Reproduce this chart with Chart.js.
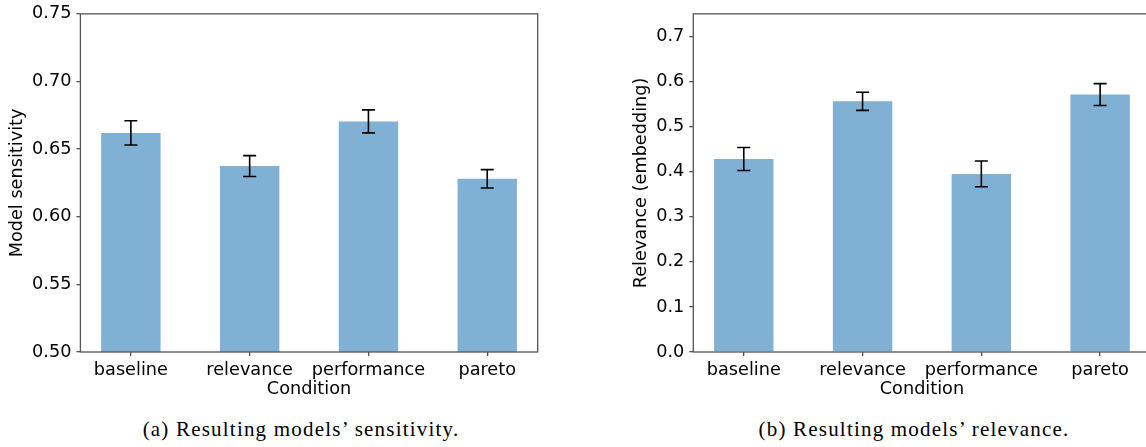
<!DOCTYPE html>
<html>
<head>
<meta charset="utf-8">
<script src="https://cdn.jsdelivr.net/npm/chart.js@4.4.1/dist/chart.umd.min.js"></script>
<style>
  html, body { margin: 0; padding: 0; background: #fff; }
  body { width: 1146px; height: 447px; position: relative; overflow: hidden; }
  .panel { position: absolute; top: 0; height: 400px; }
  #left { left: 0; width: 580px; }
  #right { left: 580px; width: 580px; }
  .caption {
    position: absolute; top: 417px; width: 500px; text-align: center;
    font-family: "Liberation Serif", "DejaVu Serif", serif; font-size: 21px; letter-spacing: 1.2px; color: #000;
  }
</style>
</head>
<body>
<div class="panel" id="left"><canvas id="sensChart"></canvas></div>
<div class="panel" id="right"><canvas id="relChart"></canvas></div>
<div class="caption" style="left:51px">(a) Resulting models’ sensitivity.</div>
<div class="caption" style="left:664px">(b) Resulting models’ relevance.</div>
<script>
// 条件ごとの値
const conditions = ['baseline', 'relevance', 'performance', 'pareto'];
const sensitivity = [0.662, 0.6375, 0.6705, 0.628];
const sensitivityErr = [0.009, 0.0077, 0.0085, 0.0068];
const relevance = [0.428, 0.556, 0.395, 0.571];
const relevanceErr = [0.0255, 0.020, 0.0285, 0.0243];
const sensTicks = [0.50, 0.55, 0.60, 0.65, 0.70, 0.75];
const relTicks = [0.0, 0.1, 0.2, 0.3, 0.4, 0.5, 0.6, 0.7];

const barColor = 'rgb(128, 176, 211)';
const axisColor = '#555';
const font = { family: "'DejaVu Sans', sans-serif", size: 17.7 };

// エラーバーと枠線
const errorBarPlugin = {
    id: 'errorBars',
    afterDatasetsDraw(chart) {
        const ds = chart.data.datasets[0];
        const x = chart.scales.x, y = chart.scales.y;
        const ctx = chart.ctx;
        ctx.save();
        ctx.strokeStyle = '#000';
        ctx.lineWidth = 1.6;
        ds.data.forEach((d, i) => {
            const px = x.getPixelForValue(d.x);
            const top = y.getPixelForValue(d.y + ds.err[i]);
            const bot = y.getPixelForValue(d.y - ds.err[i]);
            ctx.beginPath();
            ctx.moveTo(px, top); ctx.lineTo(px, bot);
            ctx.moveTo(px - 6.5, top); ctx.lineTo(px + 6.5, top);
            ctx.moveTo(px - 6.5, bot); ctx.lineTo(px + 6.5, bot);
            ctx.stroke();
        });
        ctx.restore();
    },
    afterDraw(chart) {
        const a = chart.chartArea, ctx = chart.ctx;
        ctx.save();
        ctx.strokeStyle = axisColor;
        ctx.lineWidth = 1.3;
        ctx.strokeRect(a.left, a.top, a.right - a.left, a.bottom - a.top);
        ctx.restore();
    }
};

function makeChart(id, values, errs, ticks, yMin, yMax, decimals, yTitle, padLeft, yWidth) {
    return new Chart(document.getElementById(id), {
        type: 'bar',
        data: {
            datasets: [{
                data: values.map((v, i) => ({ x: i, y: v })),
                err: errs,
                backgroundColor: barColor,
                categoryPercentage: 1,
                barPercentage: 0.5
            }]
        },
        options: {
            responsive: true,
            maintainAspectRatio: false,
            animation: false,
            layout: { padding: { left: padLeft, right: 580 - padLeft - yWidth - 457.3, top: 12.3, bottom: 0 } },
            plugins: { legend: { display: false }, tooltip: { enabled: false } },
            scales: {
                x: {
                    type: 'linear',
                    offset: false,
                    min: -0.425,
                    max: 3.425,
                    afterBuildTicks: s => { s.ticks = conditions.map((c, i) => ({ value: i })); },
                    afterFit: s => { s.height = 48; },
                    grid: { offset: false, drawOnChartArea: false, drawTicks: true, tickLength: 4, color: axisColor, lineWidth: 1.3 },
                    border: { display: false },
                    ticks: { color: '#000', font, padding: 4, maxRotation: 0, autoSkip: false, callback: v => conditions[v] },
                    title: { display: true, text: 'Condition', color: '#000', font, padding: { top: -2, bottom: 0 } }
                },
                y: {
                    min: yMin,
                    max: yMax,
                    afterBuildTicks: s => { s.ticks = ticks.map(v => ({ value: v })); },
                    afterFit: s => { s.width = yWidth; },
                    grid: { drawOnChartArea: false, drawTicks: true, tickLength: 4, color: axisColor, lineWidth: 1.3 },
                    border: { display: false },
                    ticks: { color: '#000', font: { ...font, lineHeight: 1 }, padding: 5, callback: v => v.toFixed(decimals) },
                    title: { display: true, text: yTitle, color: '#000', font, padding: 0 }
                }
            }
        },
        plugins: [errorBarPlugin]
    });
}

makeChart('sensChart', sensitivity, sensitivityErr, sensTicks, 0.5, 0.75, 2, 'Model sensitivity', 7, 73.4);
makeChart('relChart', relevance, relevanceErr, relTicks, 0, 0.75, 1, 'Relevance (embedding)', 51, 62.3);
</script>
</body>
</html>
